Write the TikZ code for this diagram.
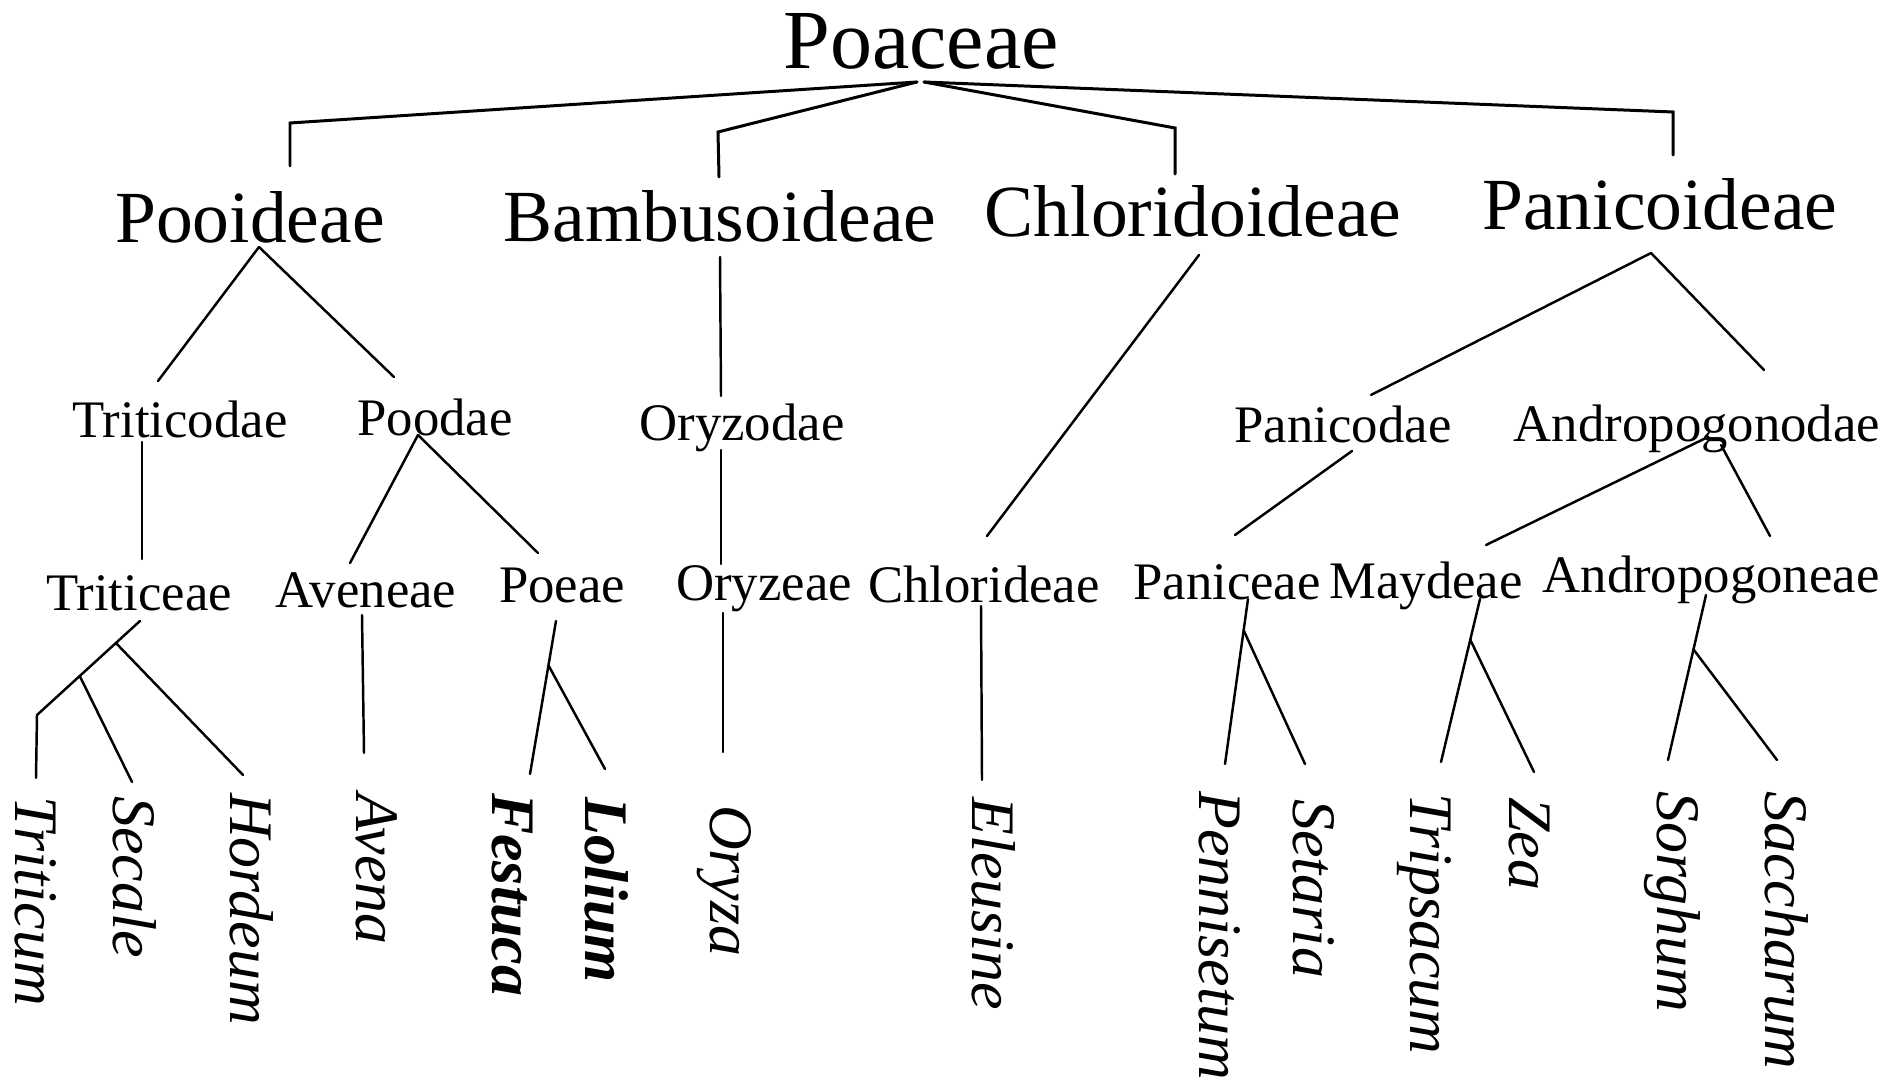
\documentclass[tikz,border=0pt]{standalone}
\usepackage{fontspec}
\setmainfont{Liberation Serif}
\usepackage{tikz}
\usetikzlibrary{calc}

\begin{document}
\begin{tikzpicture}[x=0.01cm, y=-0.01cm, line width=0.7pt, line cap=round,
  family/.style={anchor=base, inner sep=0pt, font=\fontsize{23.9}{26}\selectfont},
  subfam/.style={anchor=base, inner sep=0pt, font=\fontsize{20.9}{24}\selectfont},
  rank/.style={anchor=base, inner sep=0pt, font=\fontsize{15}{18}\selectfont},
  genus/.style={anchor=base west, inner sep=0pt, rotate=-90,
    font=\fontsize{17.6}{20}\selectfont\itshape},
  bgenus/.style={genus, font=\fontsize{17.6}{20}\selectfont\bfseries\itshape},
  toplink/.style={line width=0.85pt}]
  \useasboundingbox (0,0) rectangle (1891,1086);

  % Family
  \node[family] (poaceae) at (921,69) {Poaceae};

  % Subfamilies
  \node[subfam] (pooideae) at (250,243) {Pooideae};
  \node[subfam] (bambusoideae) at (720,242) {Bambusoideae};
  \node[subfam] (chloridoideae) at (1193,237) {Chloridoideae};
  \node[subfam] (panicoideae) at (1660,230) {Panicoideae};

  % Supertribes
  \node[rank] (triticodae) at (180,438) {Triticodae};
  \node[rank] (poodae) at (435,436) {Poodae};
  \node[rank] (oryzodae) at (742,441) {Oryzodae};
  \node[rank] (panicodae) at (1343,443) {Panicodae};
  \node[rank] (andropogonodae) at (1697,442) {Andropogonodae};

  % Tribes
  \node[rank] (triticeae) at (139,611) {Triticeae};
  \node[rank] (aveneae) at (366,608) {Aveneae};
  \node[rank] (poeae) at (562,603) {Poeae};
  \node[rank] (oryzeae) at (764,601) {Oryzeae};
  \node[rank] (chlorideae) at (984,603) {Chlorideae};
  \node[rank] (paniceae) at (1227,600) {Paniceae};
  \node[rank] (maydeae) at (1426,599) {Maydeae};
  \node[rank] (andropogoneae) at (1711,593) {Andropogoneae};

  % Genera
  \node[genus] (triticum) at (15,795) {Triticum};
  \node[genus] (secale) at (113,795) {Secale};
  \node[genus] (hordeum) at (230,792) {Hordeum};
  \node[genus] (avena) at (356,792) {Avena};
  \node[bgenus] (festuca) at (492,792) {Festuca};
  \node[bgenus] (lolium) at (585,796) {Lolium};
  \node[genus] (oryza) at (710,804) {Oryza};
  \node[genus] (eleusine) at (972,796) {Eleusine};
  \node[genus] (pennisetum) at (1199,790) {Pennisetum};
  \node[genus] (setaria) at (1293,798) {Setaria};
  \node[genus] (tripsacum) at (1410,792) {Tripsacum};
  \node[genus] (zea) at (1509,796) {Zea};
  \node[genus] (sorghum) at (1657,790) {Sorghum};
  \node[genus] (saccharum) at (1765,790) {Saccharum};

  % Link ends under and over the labels
  \coordinate (poaceae-l) at (917,82);
  \coordinate (poaceae-r) at (924,82);
  \coordinate (pooideae-k) at (290,123);
  \coordinate (pooideae-t) at (290,166);
  \coordinate (bambusoideae-k) at (718,132);
  \coordinate (bambusoideae-t) at (719,177);
  \coordinate (chloridoideae-k) at (1175,128);
  \coordinate (chloridoideae-t) at (1175,174);
  \coordinate (panicoideae-k) at (1673,112);
  \coordinate (panicoideae-t) at (1673,155);

  \coordinate (pooideae-b) at (259,247);
  \coordinate (bambusoideae-b) at (720,257);
  \coordinate (chloridoideae-b) at (1199,255);
  \coordinate (panicoideae-b) at (1651,253);

  \coordinate (triticodae-t) at (158,381);
  \coordinate (poodae-t) at (394,377);
  \coordinate (oryzodae-t) at (721,396);
  \coordinate (panicodae-t) at (1371,395);
  \coordinate (andropogonodae-t) at (1764,370);

  \coordinate (triticodae-b) at (142,442);
  \coordinate (poodae-b) at (418,435);
  \coordinate (oryzodae-b) at (721,450);
  \coordinate (panicodae-b) at (1352,451);
  \coordinate (andropogonodae-b) at (1708,437);
  \coordinate (andropogonodae-c) at (1721,445);

  \coordinate (triticeae-t) at (142,559);
  \coordinate (aveneae-t) at (350,563);
  \coordinate (poeae-t) at (538,553);
  \coordinate (oryzeae-t) at (721,564);
  \coordinate (chlorideae-t) at (987,536);
  \coordinate (paniceae-t) at (1235,535);
  \coordinate (maydeae-t) at (1486,545);
  \coordinate (andropogoneae-t) at (1770,536);

  \coordinate (triticeae-b) at (140,621);
  \coordinate (aveneae-b) at (362,615);
  \coordinate (poeae-b) at (556,621);
  \coordinate (oryzeae-b) at (723,613);
  \coordinate (chlorideae-b) at (981,606);
  \coordinate (paniceae-b) at (1248,599);
  \coordinate (maydeae-b) at (1480,599);
  \coordinate (andropogoneae-b) at (1706,595);

  \coordinate (triticum-k) at (37,715);
  \coordinate (triticum-t) at (36,778);
  \coordinate (secale-t) at (132,782);
  \coordinate (hordeum-t) at (243,775);
  \coordinate (avena-t) at (364,753);
  \coordinate (festuca-t) at (530,774);
  \coordinate (lolium-t) at (605,769);
  \coordinate (oryza-t) at (723,752);
  \coordinate (eleusine-t) at (982,780);
  \coordinate (pennisetum-t) at (1225,764);
  \coordinate (setaria-t) at (1305,764);
  \coordinate (tripsacum-t) at (1441,762);
  \coordinate (zea-t) at (1534,772);
  \coordinate (sorghum-t) at (1668,760);
  \coordinate (saccharum-t) at (1777,760);

  % Family to subfamilies
  \draw[toplink] (poaceae-l) -- (pooideae-k) -- (pooideae-t);
  \draw[toplink] (poaceae-l) -- (bambusoideae-k) -- (bambusoideae-t);
  \draw[toplink] (poaceae-r) -- (chloridoideae-k) -- (chloridoideae-t);
  \draw[toplink] (poaceae-r) -- (panicoideae-k) -- (panicoideae-t);

  % Subfamilies to supertribes
  \draw (pooideae-b) -- (triticodae-t);
  \draw (pooideae-b) -- (poodae-t);
  \draw (bambusoideae-b) -- (oryzodae-t);
  \draw (chloridoideae-b) -- (chlorideae-t);
  \draw (panicoideae-b) -- (panicodae-t);
  \draw (panicoideae-b) -- (andropogonodae-t);

  % Supertribes to tribes
  \draw (triticodae-b) -- (triticeae-t);
  \draw (poodae-b) -- (aveneae-t);
  \draw (poodae-b) -- (poeae-t);
  \draw (oryzodae-b) -- (oryzeae-t);
  \draw (panicodae-b) -- (paniceae-t);
  \draw (andropogonodae-b) -- (maydeae-t);
  \draw (andropogonodae-c) -- (andropogoneae-t);

  % Tribes to genera
  \draw (triticeae-b) -- (triticum-k) -- (triticum-t);
  \draw ($(triticeae-b)!0.234!(triticum-k)$) -- (hordeum-t);
  \draw ($(triticeae-b)!0.585!(triticum-k)$) -- (secale-t);
  \draw (aveneae-b) -- (avena-t);
  \draw (poeae-b) -- (festuca-t);
  \draw ($(poeae-b)!0.29!(festuca-t)$) -- (lolium-t);
  \draw (oryzeae-b) -- (oryza-t);
  \draw (chlorideae-b) -- (eleusine-t);
  \draw (paniceae-b) -- (pennisetum-t);
  \draw ($(paniceae-b)!0.19!(pennisetum-t)$) -- (setaria-t);
  \draw (maydeae-b) -- (tripsacum-t);
  \draw ($(maydeae-b)!0.25!(tripsacum-t)$) -- (zea-t);
  \draw (andropogoneae-b) -- (sorghum-t);
  \draw ($(andropogoneae-b)!0.33!(sorghum-t)$) -- (saccharum-t);
\end{tikzpicture}
\end{document}
